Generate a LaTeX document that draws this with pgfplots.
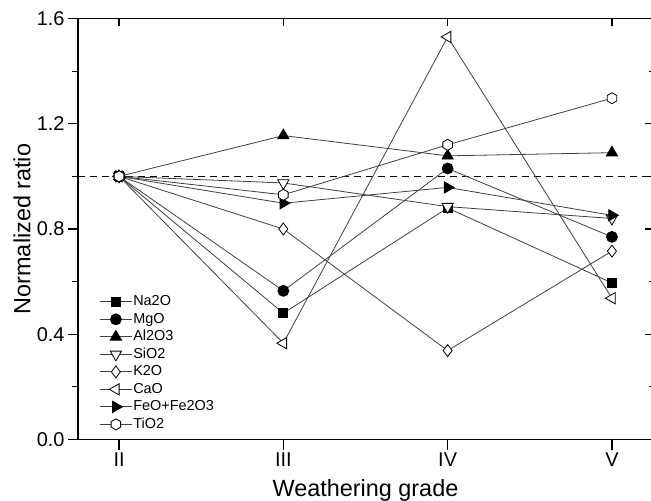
\documentclass[border=0pt]{standalone}
\usepackage{fontspec}
\setmainfont{Liberation Sans}
\usepackage{pgfplots}
\pgfplotsset{compat=1.18}
\usetikzlibrary{plotmarks}

\pgfdeclareplotmark{hexagon}{%
  \pgfpathmoveto{\pgfpointpolar{90}{\pgfplotmarksize}}%
  \pgfpathlineto{\pgfpointpolar{150}{\pgfplotmarksize}}%
  \pgfpathlineto{\pgfpointpolar{210}{\pgfplotmarksize}}%
  \pgfpathlineto{\pgfpointpolar{270}{\pgfplotmarksize}}%
  \pgfpathlineto{\pgfpointpolar{330}{\pgfplotmarksize}}%
  \pgfpathlineto{\pgfpointpolar{30}{\pgfplotmarksize}}%
  \pgfpathclose
  \pgfusepathqfillstroke}

\newcommand{\legfont}{\fontsize{14.5}{17}\selectfont}

\pgfplotsset{
  common/.style={
    scale only axis, width=575bp, height=421bp,
    xmin=-0.25, xmax=3.25, ymin=0, ymax=1.6,
    xtick={0,1,2,3},
    ytick={0,0.4,0.8,1.2,1.6},
    minor y tick num=1,
    axis line style={-, line width=1.2bp, black},
    tick style={line width=1.2bp, black},
    major tick length=10bp, minor tick length=6bp,
  },
  ln/.style={line width=0.8bp, draw=black!75},
}

\begin{document}
\begin{tikzpicture}
\begin{axis}[common, name=main,
  axis x line*=bottom, axis y line*=left,
  tick align=outside,
  xticklabels={II,III,IV,V},
  yticklabel style={/pgf/number format/.cd, fixed, fixed zerofill, precision=1},
  /pgf/number format/assume math mode=true,
  ticklabel style={font=\fontsize{20}{24}\selectfont},
  xlabel={Weathering grade}, ylabel={Normalized ratio},
  label style={font=\fontsize{23.5}{28}\selectfont},
  xlabel style={at={(axis description cs:0.5,-0.12)}, anchor=center},
  ylabel style={at={(axis description cs:-0.0974,0.5)}, anchor=center},
  legend cell align=left,
  legend image code/.code={\draw[mark repeat=2,mark phase=2] plot coordinates {(0bp,0bp)(16bp,0bp)(32bp,0bp)};},
  legend style={draw=none, fill=none, at={(axis description cs:0.037,0.347)}, anchor=north west,
    font=\legfont, row sep=1bp, inner sep=0pt,
    nodes={font=\legfont, inner sep=1bp, text height=11bp, text depth=3.5bp},
    /tikz/every even column/.append style={column sep=3bp}},
]
\addplot[black, line width=1.3bp, dash pattern=on 7bp off 5bp, forget plot] coordinates {(-0.25,1) (3.25,1)};

\addplot[ln, mark=square*, mark size=4.5bp, mark options={draw=black, fill=black}] coordinates {(0,1) (1,0.48) (2,0.88) (3,0.595)};
\addlegendentry{Na2O}
\addplot[ln, mark=*, mark size=5.5bp, mark options={draw=black, fill=black}] coordinates {(0,1) (1,0.565) (2,1.03) (3,0.77)};
\addlegendentry{MgO}
\addplot[ln, mark=triangle*, mark size=6.5bp, mark options={draw=black, fill=black}] coordinates {(0,1) (1,1.155) (2,1.078) (3,1.09)};
\addlegendentry{Al2O3}
\addplot[ln, mark=triangle*, mark size=6.5bp, mark options={draw=black, fill=white, rotate=180}] coordinates {(0,1) (1,0.975) (2,0.885) (3,0.84)};
\addlegendentry{SiO2}
\addplot[ln, mark=diamond*, mark size=6bp, mark options={draw=black, fill=white}] coordinates {(0,1) (1,0.80) (2,0.338) (3,0.716)};
\addlegendentry{K2O}
\addplot[ln, mark=triangle*, mark size=6.5bp, mark options={draw=black, fill=white, rotate=90}] coordinates {(0,1) (1,0.366) (2,1.53) (3,0.537)};
\addlegendentry{CaO}
\addplot[ln, mark=triangle*, mark size=6.5bp, mark options={draw=black, fill=black, rotate=-90}] coordinates {(0,1) (1,0.898) (2,0.958) (3,0.852)};
\addlegendentry{FeO+Fe2O3}
\addplot[ln, mark=hexagon, mark size=5.5bp, mark options={draw=black, fill=white}] coordinates {(0,1) (1,0.93) (2,1.12) (3,1.297)};
\addlegendentry{TiO2}
\end{axis}
\begin{axis}[common,
  axis x line*=top, axis y line*=right,
  tick align=inside,
  xticklabels={}, yticklabels={},
  major tick length=8bp, minor tick length=4bp,
]
\end{axis}
\pgfresetboundingbox
\path[use as bounding box] ([shift={(-78bp,-61.5bp)}]main.south west) rectangle ++(651bp,501bp);
\end{tikzpicture}
\end{document}
